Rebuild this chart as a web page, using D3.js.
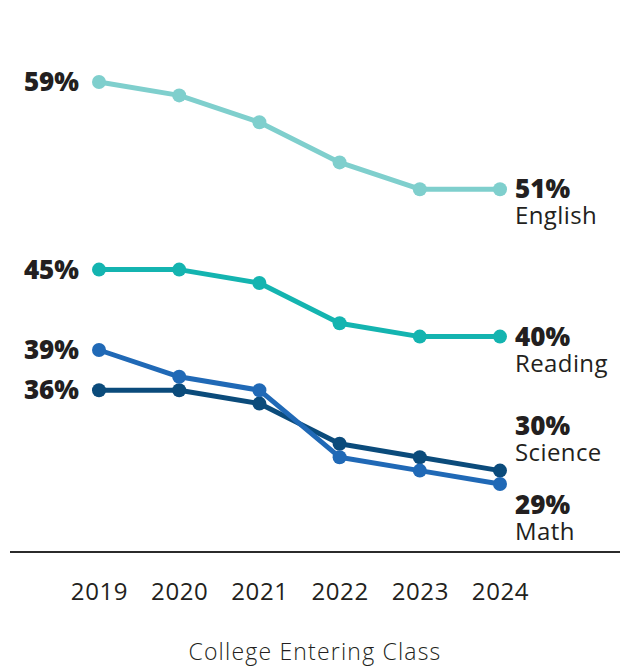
<!DOCTYPE html>
<html>
<head>
<meta charset="utf-8">
<script src="https://cdn.jsdelivr.net/npm/d3@7"></script>
<style>
  body { margin: 0; background: #fff; }
  text { font-family: "Open Sans", Lato, sans-serif; fill: #231f20; }
</style>
</head>
<body>
<svg id="chart" width="626" height="669"></svg>
<script>
// data
const years = [2019, 2020, 2021, 2022, 2023, 2024];
const subjects = ["English", "Reading", "Science", "Math"];
const english = [59, 58, 56, 53, 51, 51];
const reading = [45, 45, 44, 41, 40, 40];
const science = [36, 36, 35, 32, 31, 30];
const math = [39, 37, 36, 31, 30, 29];

const colors = {English: "#7fcfcd", Reading: "#14b4b0", Science: "#0b4b7b", Math: "#2069b6"};
// right label nudges (px) so the names do not collide
const labelShift = {English: 0, Reading: 0, Science: -45, Math: 21};

const series = [
  {name: "English", values: english},
  {name: "Reading", values: reading},
  {name: "Science", values: science},
  {name: "Math", values: math}
];

const svg = d3.select("#chart");

const x = d3.scalePoint()
  .domain(years)
  .range([99, 500]);

const y = d3.scaleLinear()
  .domain([59, 29])
  .range([82, 484]);

// baseline
svg.append("line")
  .attr("x1", 10).attr("x2", 620)
  .attr("y1", 552).attr("y2", 552)
  .attr("stroke", "#2b2b2b")
  .attr("stroke-width", 2);

// year axis
const xAxis = svg.append("g")
  .attr("transform", "translate(0,552)")
  .call(d3.axisBottom(x).tickSize(0).tickPadding(31));
xAxis.select(".domain").remove();
xAxis.selectAll(".tick text")
  .attr("font-size", 24)
  .attr("fill", "#231f20")
  .attr("letter-spacing", 0.6)
  .style("font-family", "'Open Sans', sans-serif");

svg.append("text")
  .attr("x", 315).attr("y", 660)
  .attr("text-anchor", "middle")
  .attr("font-size", 23)
  .attr("font-weight", 300)
  .attr("letter-spacing", 1.2)
  .text("College Entering Class");

const line = d3.line()
  .x((d, i) => x(years[i]))
  .y(d => y(d));

series.forEach(s => {
  const g = svg.append("g");
  g.append("path")
    .datum(s.values)
    .attr("d", line)
    .attr("fill", "none")
    .attr("stroke", colors[s.name])
    .attr("stroke-width", 5)
    .attr("stroke-linejoin", "round");
  g.selectAll("circle")
    .data(s.values)
    .join("circle")
    .attr("cx", (d, i) => x(years[i]))
    .attr("cy", d => y(d))
    .attr("r", 7)
    .attr("fill", colors[s.name]);
});

// left labels
series.forEach(s => {
  svg.append("text")
    .attr("x", 79)
    .attr("y", y(s.values[0]) + 9)
    .attr("text-anchor", "end")
    .attr("font-size", 26)
    .attr("font-weight", 800)
    .text(s.values[0] + "%");
});

// right labels: value + subject name in one text block
series.forEach(s => {
  const last = s.values[s.values.length - 1];
  const yy = y(last) + labelShift[s.name];
  const t = svg.append("text")
    .attr("x", 515)
    .attr("y", yy + 9);
  t.append("tspan")
    .attr("font-size", 26)
    .attr("font-weight", 800)
    .text(last + "%");
  t.append("tspan")
    .attr("x", 515)
    .attr("dy", 26)
    .attr("font-size", 24)
    .attr("font-weight", 400)
    .attr("letter-spacing", 0.4)
    .text(s.name);
});
</script>
</body>
</html>
